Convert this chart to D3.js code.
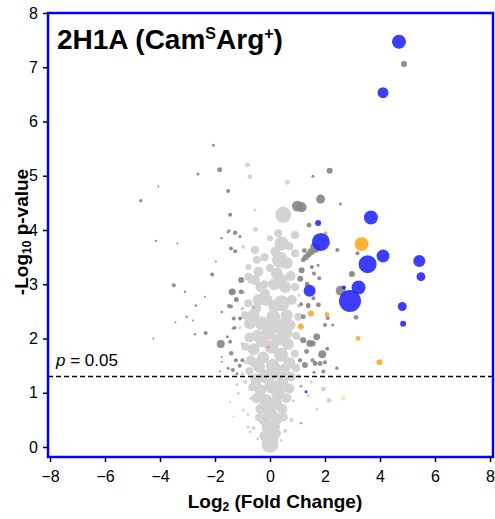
<!DOCTYPE html>
<html lang="en">
<head>
<meta charset="utf-8">
<title>2H1A volcano</title>
<script src="https://d3js.org/d3.v7.min.js"></script>
<style>
  body { margin: 0; background: #fff; }
  svg { font-family: "Liberation Sans", Arial, sans-serif; }
  .tick text { font-size: 16px; fill: #000; }
  .tick line { stroke: #000; stroke-width: 1.5; }
</style>
</head>
<body>
<div id="chart"></div>
<script>
// ticks
const xTicks = [-8, -6, -4, -2, 0, 2, 4, 6, 8];
const yTicks = [0, 1, 2, 3, 4, 5, 6, 7, 8];
const pCut = 1.3; // -log10(0.05)

// [log2FC, -log10 p, abundance]
const lightGray = [
  // lower plume
  [0.0,0.05,72],[0.03,0.2,64],[-0.05,0.35,49],[0.15,0.38,36],[-0.2,0.5,36],[0.25,0.52,36],
  [0.0,0.62,49],[-0.35,0.7,25],[0.45,0.7,25],[0.2,0.8,49],[-0.15,0.85,49],[-0.5,0.9,25],
  [0.6,0.9,25],[0.3,1.0,49],[-0.35,1.05,36],[0.7,1.08,25],[-0.65,1.1,16],[0.05,1.12,49],
  [0.45,1.2,36],[-0.5,1.25,36],[-0.15,1.3,49],[0.75,1.3,25],[0.35,1.38,49],[-0.75,1.4,16],
  [-0.4,1.48,36],[0.95,1.45,16],[0.1,1.5,49],[0.7,1.55,36],[-0.7,1.6,25],[-0.25,1.65,36],
  [0.4,1.7,49],[0.9,1.72,16],[-0.6,1.8,36],[0.05,1.85,49],[-0.9,1.85,16],[0.65,1.9,36],
  [-0.3,1.95,36],[0.3,1.98,36],[-0.75,2.02,25],[0.95,2.05,16],[-0.05,2.1,49],
  [-0.2,0.2,25],[0.25,0.25,16],[-0.4,0.55,16],[0.5,0.55,16],[0.1,1.35,36],[-0.55,1.55,25],
  [0.55,1.45,25],
  // upper plume
  [0.42,2.22,64],[-0.3,2.28,49],[-0.73,2.28,36],[0.12,2.4,49],[0.61,2.43,36],[-0.61,2.43,36],
  [-0.91,2.43,16],[1.03,2.4,16],[0.42,2.65,64],[-0.79,2.65,16],[-0.42,2.71,36],[-0.12,2.71,36],
  [0.79,2.71,25],[-0.18,2.83,25],[0.55,2.95,36],[0.91,2.95,16],[0.42,3.08,36],[-0.55,3.08,25],
  [-0.79,3.14,16],[0.15,3.0,36],[0.25,3.2,36],[-0.42,3.23,25],[-0.79,3.32,9],[0.36,3.45,64],
  [0.61,3.39,36],[-0.48,3.45,16],[-0.55,3.63,16],[0.91,3.57,16],[0.42,3.75,49],[0.2,3.6,25],
  [0.3,3.94,16],[0.91,3.91,16],[0.48,4.28,64],[-0.53,4.01,6],[-0.55,4.37,2.25],[0.63,4.88,6],
  [-0.73,4.98,6],[-0.82,5.2,6],[-0.73,3.05,4],[-0.97,3.69,4],[0.0,3.3,16],[-0.2,3.0,16],
  [-0.45,2.05,36],[0.6,2.1,36],[0.1,2.2,36],[0.75,2.25,25],[-0.5,2.55,25],[0.15,2.6,36],
  [-0.35,2.95,25],[0.75,3.15,25],[-0.2,3.5,16],[0.0,3.85,9],[0.7,3.7,16],
  // edges
  [-0.9,1.2,4],[-1.0,1.35,2.25],[1.05,1.3,4],[1.1,1.6,4],[-1.0,1.9,4],[1.1,2.0,4],
  [-1.0,2.55,4],[1.05,2.6,4],[-0.95,2.85,2.25],[1.05,2.8,2.25],[-0.8,0.6,2.25],[0.78,0.5,4],
  [-0.6,0.35,4],[0.55,0.3,4],[-0.45,0.15,2.25],[0.4,0.12,2.25],[-0.7,0.9,2.25],[0.85,0.85,2.25],
  [-0.9,1.55,2.25],[-1.1,2.2,2.25],
  // strays
  [-1.45,0.83,1],[-1.33,0.56,1],[-1.15,0.99,2.25],[-0.97,0.68,2.25],[-0.79,0.37,2.25],
  [-0.73,0.28,2.25],[-1.2,1.15,2.25],
  [1.94,1.07,6],[2.15,0.86,6],[1.7,0.7,2.25],[1.39,0.95,2.25],[1.5,1.2,2.25]
];

const darkGray = [
  [2.17,5.09,9],[1.56,4.99,2.25],[1.84,4.57,20],[1.0,4.44,30],[1.15,4.42,25],[2.56,4.48,2.25],
  [1.42,4.09,6],[1.64,3.67,25],[2.45,3.63,4],[3.18,3.57,4],[2.98,3.19,9],[2.57,2.88,25],
  [3.13,2.39,6],[1.21,3.45,6],[1.15,3.26,9],[1.52,3.32,4],[1.79,3.11,4],[1.76,2.62,6],
  [1.58,2.74,4],[1.39,2.62,4],[1.21,2.4,6],[1.21,1.97,9],[1.7,2.03,12],[1.9,1.71,16],
  [2.08,1.81,4],[2.28,2.25,2.25],[2.43,1.45,3],[1.27,1.51,9],[1.55,1.6,4],[1.33,1.76,6],
  [1.13,2.63,4],[1.39,2.6,6],[2.0,2.25,4],[1.45,1.91,12],[1.55,1.91,9],[1.09,1.6,4],
  [1.64,1.54,6],[2.0,1.56,4],[1.94,1.39,4],[1.6,1.38,2.25],[2.1,2.38,4],[4.87,7.06,9],
  [1.3,3.5,9],[1.4,3.55,9],[1.5,3.6,12],[1.82,1.54,6],[1.25,3.62,6],[1.1,3.1,9],
  [1.35,3.0,6],[1.6,3.2,4],[1.75,3.35,2.25],
  [-2.06,5.56,2.25],[-1.83,5.11,6],[-2.62,5.03,2.25],[-1.52,4.72,4],[-4.06,4.8,1],[-4.7,4.54,3],
  [-1.45,4.28,4],[-1.27,3.95,5],[-1.76,3.85,1.5],[-1.48,3.99,1.5],[-4.15,3.8,1.5],[-3.37,3.75,1],
  [-1.42,3.66,4],[-1.27,3.61,4],[-1.97,3.42,1],[-2.1,3.18,4],[-3.5,2.98,4],[-3.09,2.86,1.5],
  [-2.36,2.77,1],[-1.38,2.86,12],[-1.23,2.72,6],[-2.7,2.61,1.5],[-1.49,2.6,4],[-1.75,2.49,1.5],
  [-3.03,2.4,1.5],[-2.81,2.33,1],[-3.44,2.3,1],[-1.32,2.37,4],[-1.28,2.2,3],[-2.34,2.1,4],
  [-2.73,2.08,1.5],[-4.24,2.0,1],[-1.79,1.9,16],[-1.45,1.94,4],[-1.41,1.73,5],[-1.76,1.66,1],
  [-1.76,1.57,1],[-1.24,1.6,4],[-1.52,1.45,2.25],[-1.35,1.42,4],[-1.82,1.39,1],[-1.05,3.08,9],
  [-1.36,2.86,9],[-1.05,2.86,6],[-1.21,2.71,4],[-1.42,2.59,4],[-1.09,2.37,4],[-1.33,2.19,2.25],
  [-1.55,2.03,2.25],[-1.52,3.97,2.25],[-1.09,3.88,2.25],[-1.1,1.5,4],[-1.2,1.35,2.25],[-1.0,1.6,4]
];

const orange = [
  [3.33,3.74,49],[2.02,3.94,4],[1.49,2.46,9],[2.07,2.44,6],[1.12,2.22,9],[3.2,2.0,6],[3.98,1.56,9]
];
const orangeFaint = [[2.67,0.9,6]];

const blue = [
  [4.69,7.47,49],[4.11,6.53,30],[3.67,4.23,49],[1.75,4.13,9],[1.85,3.78,81],[4.11,3.52,42],
  [3.55,3.37,81],[5.43,3.43,36],[5.49,3.14,20],[3.22,2.94,49],[2.91,2.69,121],[2.69,2.94,4],
  [1.44,2.88,36],[4.81,2.59,20],[4.84,2.27,9],[1.31,1.02,2.25]
];

const pink = [[1.13,1.12,2],[1.13,0.44,1.5],[-0.6,2.57,1.5]];
const salmon = [[-0.07,1.84,2]];

const W = 495, H = 519;
const svg = d3.select("#chart").append("svg")
  .attr("width", W).attr("height", H);

const x = d3.scaleLinear().domain([-8, 8]).range([50, 490]);
const y = d3.scaleLinear().domain([0, 8]).range([447, 13]);
const r = d3.scaleSqrt().domain([0, 121]).range([0, 11]);

const frameL = 48, frameR = 493, frameT = 13, frameB = 457;

function dots(data, fill, opacity) {
  svg.append("g")
    .selectAll("circle")
    .data(data)
    .enter()
    .append("circle")
      .attr("cx", d => x(d[0]))
      .attr("cy", d => y(d[1]))
      .attr("r", d => r(d[2]))
      .attr("fill", fill)
      .attr("fill-opacity", opacity);
}

dots(lightGray, "#d3d3d3", 1);
dots(darkGray, "#8a8a8a", 0.95);
dots(pink, "#e27ee2", 1);
dots(salmon, "#f08a8a", 1);
dots(orangeFaint, "#ffb347", 0.35);
dots(orange, "#ffaa22", 0.9);
dots(blue, "#2222ff", 0.88);

// threshold
svg.append("line")
  .attr("x1", frameL).attr("x2", frameR)
  .attr("y1", y(pCut)).attr("y2", y(pCut))
  .attr("stroke", "#000").attr("stroke-width", 1.3)
  .attr("stroke-dasharray", "5,3");

const pLab = svg.append("text")
  .attr("x", 56).attr("y", 366)
  .style("font-size", "17px");
pLab.append("tspan").style("font-style", "italic").text("p");
pLab.append("tspan").text(" = 0.05");

// frame
svg.append("rect")
  .attr("x", frameL).attr("y", frameT)
  .attr("width", frameR - frameL).attr("height", frameB - frameT)
  .attr("fill", "none").attr("stroke", "#0000ff").attr("stroke-width", 2.5);

// axes
const gx = svg.append("g")
  .attr("transform", `translate(0,${frameB + 1})`)
  .call(d3.axisBottom(x).tickValues(xTicks).tickSize(4).tickPadding(9));
gx.select(".domain").remove();

const gy = svg.append("g")
  .attr("transform", `translate(${frameL - 1},0)`)
  .call(d3.axisLeft(y).tickValues(yTicks).tickSize(4).tickPadding(5));
gy.select(".domain").remove();

// title
const title = svg.append("text")
  .attr("x", 57).attr("y", 49)
  .style("font-size", "28px").style("font-weight", "bold");
title.append("tspan").text("2H1A (Cam");
title.append("tspan").attr("dy", -10).style("font-size", "16px").text("S");
title.append("tspan").attr("dy", 10).text("Arg");
title.append("tspan").attr("dy", -10).style("font-size", "16px").text("+");
title.append("tspan").attr("dy", 10).text(")");

// axis titles
const xt = svg.append("text")
  .attr("x", 275).attr("y", 508)
  .attr("text-anchor", "middle")
  .style("font-size", "19px").style("font-weight", "bold");
xt.append("tspan").text("Log");
xt.append("tspan").attr("dy", 3).style("font-size", "12px").text("2");
xt.append("tspan").attr("dy", -3).text(" (Fold Change)");

const yt = svg.append("text")
  .attr("transform", "translate(28,232) rotate(-90)")
  .attr("text-anchor", "middle")
  .style("font-size", "19px").style("font-weight", "bold");
yt.append("tspan").text("-Log");
yt.append("tspan").attr("dy", 3).style("font-size", "12px").text("10");
yt.append("tspan").attr("dy", -3).text(" p-value");
</script>
</body>
</html>
